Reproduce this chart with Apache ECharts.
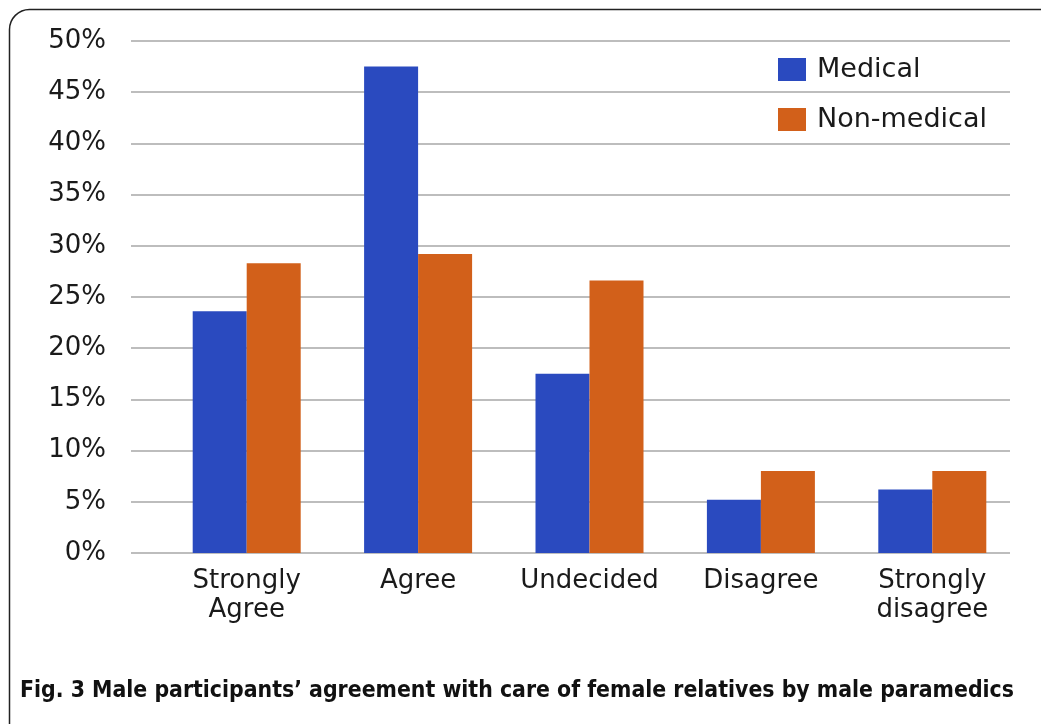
<!DOCTYPE html>
<html><head><meta charset="utf-8">
<script src="https://cdn.jsdelivr.net/npm/echarts@6/dist/echarts.min.js"></script>
<style>html,body{margin:0;padding:0;background:#fff}#c{width:1041px;height:724px}</style>
</head><body><div id="c"></div>
<script>
const categories = ['Strongly\nAgree', 'Agree', 'Undecided', 'Disagree', 'Strongly\ndisagree'];
const medical = [23.6, 47.5, 17.5, 5.2, 6.2];
const nonMedical = [28.3, 29.2, 26.6, 8.0, 8.0];
const seriesNames = ['Medical', 'Non-medical'];
const yTicks = {min: 0, max: 50, interval: 5};
const caption = 'Fig. 3 Male participants\u2019 agreement with care of female relatives by male paramedics';

const chart = echarts.init(document.getElementById('c'));
const font = 'DejaVu Sans';
chart.setOption({
  animation: false,
  backgroundColor: '#fff',
  title: {
    text: caption, left: 15, top: 675,
    textStyle: {fontFamily: 'DejaVu Sans Condensed', fontWeight: 'bold', fontSize: 22.8, color: '#111'}
  },
  legend: {
    orient: 'vertical', left: 773, top: 51, itemWidth: 28, itemHeight: 23, itemGap: 23,
    icon: 'rect',
    textStyle: {fontFamily: font, fontSize: 27, color: '#1a1a1a', padding: [0, 0, 0, 6]},
    data: seriesNames
  },
  grid: [
    {left: 161, right: 23, top: 41, bottom: 171},
    {left: 131, right: 31, top: 41, bottom: 171}
  ],
  xAxis: [
    {type: 'category', gridIndex: 0, data: categories,
     axisLine: {show: false}, axisTick: {show: false},
     axisLabel: {fontFamily: font, fontSize: 26, color: '#1a1a1a', margin: 14, lineHeight: 29, interval: 0}},
    {type: 'category', gridIndex: 1, data: categories, show: false}
  ],
  yAxis: [
    {type: 'value', gridIndex: 0, min: yTicks.min, max: yTicks.max, interval: yTicks.interval, show: false, splitLine: {show: false}},
    {type: 'value', gridIndex: 1, min: yTicks.min, max: yTicks.max, interval: yTicks.interval,
     axisLine: {show: false}, axisTick: {show: false},
     axisLabel: {fontFamily: font, fontSize: 26, color: '#1a1a1a', margin: 25, formatter: '{value}%'},
     splitLine: {lineStyle: {color: '#bdbdbd', width: 2}}}
  ],
  series: [
    {name: seriesNames[0], type: 'bar', xAxisIndex: 0, yAxisIndex: 0, data: medical,
     barWidth: 54, barGap: '0%', itemStyle: {color: '#2A4ABF'}},
    {name: seriesNames[1], type: 'bar', xAxisIndex: 0, yAxisIndex: 0, data: nonMedical,
     barWidth: 54, barGap: '0%', itemStyle: {color: '#D2601A'}}
  ],
  graphic: [{
    type: 'rect', left: 7, top: 7, silent: true, z: -1,
    shape: {width: 1060, height: 740, r: 20},
    style: {fill: 'none', stroke: '#222', lineWidth: 1.5}
  }]
});
</script></body></html>
